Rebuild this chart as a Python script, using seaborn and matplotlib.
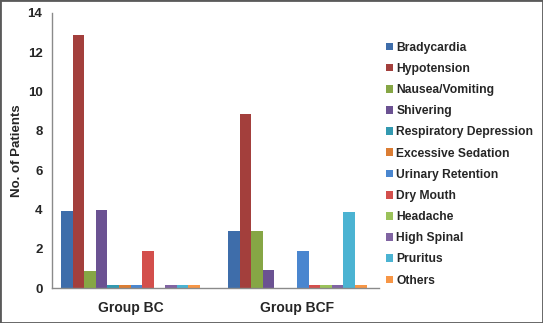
import matplotlib
matplotlib.use("Agg")
import matplotlib.pyplot as plt
import seaborn as sns
import pandas as pd

groups = ["Group BC", "Group BCF"]
symptoms = ["Bradycardia", "Hypotension", "Nausea/Vomiting", "Shivering",
            "Respiratory Depression", "Excessive Sedation", "Urinary Retention",
            "Dry Mouth", "Headache", "High Spinal", "Pruritus", "Others"]
bc_values = [3.9, 12.9, 0.85, 3.95, 0.15, 0.15, 0.15, 1.9, 0, 0.15, 0.15, 0.15]
bcf_values = [2.9, 8.85, 2.9, 0.9, 0, 0, 1.9, 0.15, 0.15, 0.15, 3.85, 0.15]
colors = ["#3E6DAA", "#A33F3C", "#86A645", "#6B5292", "#3399B0", "#DB7D33",
          "#4A86CF", "#D34F4C", "#9BC25A", "#8064A2", "#4BB3D2", "#F79646"]

df = pd.DataFrame({
    "group": [groups[0]] * len(symptoms) + [groups[1]] * len(symptoms),
    "symptom": symptoms * 2,
    "patients": bc_values + bcf_values,
})

sns.set_style("white")
plt.rcParams['font.family'] = ['Liberation Sans', 'DejaVu Sans']
plt.rcParams['font.weight'] = 'bold'

fig = plt.figure(figsize=(5.43, 3.23), dpi=100)
ax = fig.add_axes([0.096, 0.108, 0.602, 0.852])

sns.barplot(data=df, x="group", y="patients", hue="symptom", hue_order=symptoms,
            palette=colors, saturation=1, width=0.83, linewidth=0, ax=ax)

ax.set_ylim(0, 14)
ax.set_yticks(range(0, 15, 2))
ax.set_xlim(-0.47, 1.49)
ax.set_xlabel("")
ax.set_ylabel("No. of Patients", fontsize=9.5, fontweight='bold')
ax.yaxis.set_label_coords(-0.09, 0.5)

for side in ["top", "right"]:
    ax.spines[side].set_visible(False)
for side in ["left", "bottom"]:
    ax.spines[side].set_color("#8a8a8a")
    ax.spines[side].set_linewidth(1)

ax.tick_params(axis='y', direction='out', length=4, color="#8a8a8a", width=1,
               labelsize=9.5, pad=3)
ax.tick_params(axis='x', length=0, labelsize=10, pad=9)
for t in ax.get_xticklabels() + ax.get_yticklabels():
    t.set_fontweight('bold')

handles, labels = ax.get_legend_handles_labels()
ax.legend_.remove()
fig.legend(handles, labels, loc="upper left", bbox_to_anchor=(0.702, 0.886),
           frameon=False, handlelength=0.6, handleheight=0.6,
           handletextpad=0.25, labelspacing=0.76, borderaxespad=0,
           prop={'weight': 'bold', 'size': 8.7})

fig.add_artist(plt.Rectangle((0, 0), 1, 1, transform=fig.transFigure,
                             fill=False, ec="#5a5a5a", lw=2))

fig.savefig("out.png", dpi=100)
